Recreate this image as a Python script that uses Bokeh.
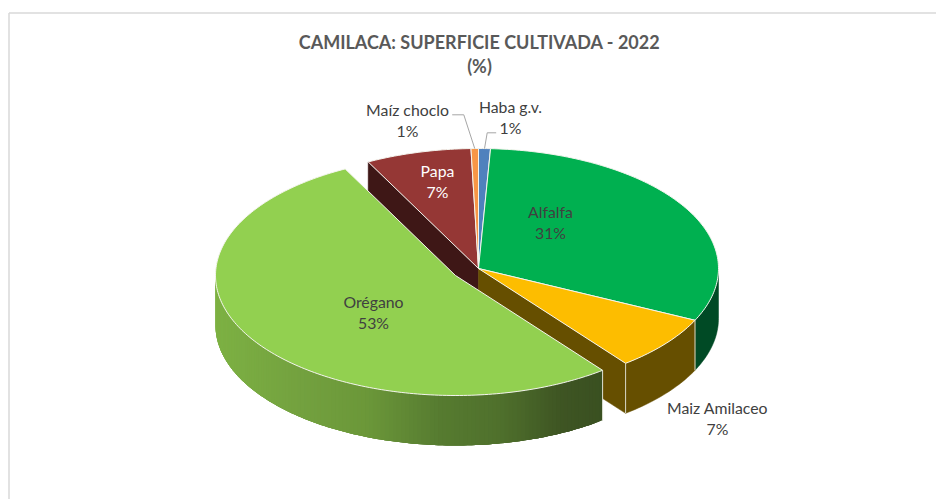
import math
from bokeh.plotting import figure
from bokeh.models import Range1d
from bokeh.core.properties import value
from bokeh.embed import file_html
from bokeh.resources import INLINE

# Data (clockwise from the top of the pie)
categories = ["Haba g.v.", "Alfalfa", "Maiz Amilaceo", "Orégano", "Papa", "Maíz choclo"]
shares = [0.8, 31.3, 7.4, 52.9, 7.1, 0.5]
pct_labels = ["1%", "31%", "7%", "53%", "7%", "1%"]
title_lines = ["CAMILACA: SUPERFICIE CULTIVADA - 2022", "(%)"]

# Style / layout
top_colors = ["#4f81bd", "#00b050", "#fdbd00", "#92d050", "#953735", "#f79646"]
side_colors = {"Alfalfa": "#004a25", "Maiz Amilaceo": "#664f00"}
cut_colors = {"Maiz Amilaceo": "#664f00", "Papa": "#3e1716"}
grad_x = [216, 300, 367, 440, 500, 560, 602]
grad_c = [(0x7d, 0xb1, 0x43), (0x73, 0xa1, 0x3f), (0x6b, 0x97, 0x39), (0x56, 0x7b, 0x30),
          (0x4f, 0x70, 0x2c), (0x3e, 0x55, 0x23), (0x3a, 0x50, 0x21)]
CX, CY, RX, RY, DEPTH = 478.0, 268.0, 240.0, 120.0, 50.0
EXPLODE = {"Orégano": (-23.0, 7.0)}
FONT = value("Lato")
LABEL_SIZE = "15.8px"
label_pos = {
    "Haba g.v.": (510, 105.5, 510, 126.5),
    "Alfalfa": (550, 210.5, 550, 231.5),
    "Maiz Amilaceo": (717, 406.5, 717, 427.5),
    "Orégano": (373, 300.5, 373, 321.5),
    "Papa": (437, 169.5, 437, 190.5),
    "Maíz choclo": (407, 108.5, 407, 129.5),
}
leader_elbows = {
    "Haba g.v.": [(495.7, 132.3), (486.7, 132.3)],
    "Maíz choclo": [(451.7, 114.3), (463.3, 114.3)],
}

p = figure(width=936, height=499, x_range=Range1d(0, 936), y_range=Range1d(499, 0),
           output_backend="svg", toolbar_location=None, min_border=0,
           background_fill_color="white", border_fill_color="white")
p.outline_line_color = None
p.axis.visible = False
p.grid.visible = False


def rim(t_deg, dx=0.0, dy=0.0, down=0.0):
    t = math.radians(t_deg)
    return CX + dx + RX * math.sin(t), CY + dy - RY * math.cos(t) + down


def frange(a, b, step=1.0):
    n = max(1, int(math.ceil(abs(b - a) / step)))
    return [a + (b - a) * i / n for i in range(n + 1)]


def grad(x):
    x = min(max(x, grad_x[0]), grad_x[-1])
    for i in range(len(grad_x) - 1):
        if x <= grad_x[i + 1]:
            f = (x - grad_x[i]) / (grad_x[i + 1] - grad_x[i])
            c = [round(grad_c[i][k] + f * (grad_c[i + 1][k] - grad_c[i][k])) for k in range(3)]
            return "#%02x%02x%02x" % tuple(c)


# angles from shares
total = sum(shares)
starts, ends, acc = [], [], 0.0
for s in shares:
    starts.append(acc / total * 360)
    acc += s
    ends.append(acc / total * 360)
idx = {c: i for i, c in enumerate(categories)}

# border of the chart area
p.line([8.5, 8.5], [499, 12.5], line_color="#d9d9d9", line_width=1.5)
p.line([8.5, 936], [12.5, 12.5], line_color="#d9d9d9", line_width=1.5)


def cut_face(t_deg, color):
    x, y = rim(t_deg)
    p.patch([CX, x, x, CX], [CY, y, y + DEPTH, CY + DEPTH], fill_color=color,
            line_color=color, line_width=0.5)


def side(t0, t1, color):
    ts = frange(t0, t1)
    xs = [rim(t)[0] for t in ts]
    ys = [rim(t)[1] for t in ts]
    p.patch(xs + xs[::-1], ys + [y + DEPTH for y in ys[::-1]], fill_color=color,
            line_color=color, line_width=0.5)


def top(i):
    dx, dy = EXPLODE.get(categories[i], (0.0, 0.0))
    ts = frange(starts[i], ends[i])
    xs = [CX + dx] + [rim(t, dx, dy)[0] for t in ts]
    ys = [CY + dy] + [rim(t, dx, dy)[1] for t in ts]
    p.patch(xs, ys, fill_color=top_colors[i], line_color="#f4f4ee", line_width=1.0)


# cut faces behind the exploded slice
cut_face(starts[idx["Papa"]], cut_colors["Papa"])
cut_face(ends[idx["Maiz Amilaceo"]], cut_colors["Maiz Amilaceo"])

# outer walls
i_a, i_m = idx["Alfalfa"], idx["Maiz Amilaceo"]
side(90.0, ends[i_a], side_colors["Alfalfa"])
side(starts[i_m], ends[i_m], side_colors["Maiz Amilaceo"])
for t in (ends[i_a], ends[i_m]):
    x, y = rim(t)
    p.line([x, x], [y, y + DEPTH], line_color="#d9d9c8", line_width=1)

# tops of the slices that stay in place
for i, c in enumerate(categories):
    if c not in EXPLODE:
        top(i)

# exploded slice: wall with a horizontal shading, then its top
i_o = idx["Orégano"]
dx, dy = EXPLODE["Orégano"]
ts = frange(starts[i_o], 270.0, 1.0)
last = ts[-1]
for t0, t1 in zip(ts[:-1], ts[1:]):
    # each strip reaches over the following ones so that no seam can show
    seg = frange(t0, min(t1 + 3.0, last), 1.0)
    xs = [rim(t, dx, dy)[0] for t in seg]
    ys = [rim(t, dx, dy)[1] for t in seg]
    col = grad(rim((t0 + t1) / 2, dx, dy)[0])
    p.patch(xs + xs[::-1], ys + [y + DEPTH for y in ys[::-1]], fill_color=col,
            line_color=None)
x, y = rim(starts[i_o], dx, dy)
p.line([x, x], [y, y + DEPTH], line_color="#dfe3d8", line_width=1)
top(i_o)

# leader lines
for c, elbow in leader_elbows.items():
    i = idx[c]
    ax, ay = rim((starts[i] + ends[i]) / 2)
    p.line([e[0] for e in elbow] + [ax], [e[1] for e in elbow] + [ay],
           line_color="#a6a6a6", line_width=1)

# texts
for c, pct in zip(categories, pct_labels):
    x1, y1, x2, y2 = label_pos[c]
    col = "#ffffff" if c == "Papa" else "#404040"
    p.text([x1], [y1], text=[c], text_font=FONT, text_font_size=LABEL_SIZE, text_color=col,
           text_align="center", text_baseline="middle")
    p.text([x2], [y2], text=[pct], text_font=FONT, text_font_size=LABEL_SIZE, text_color=col,
           text_align="center", text_baseline="middle")

for line, y in zip(title_lines, [41, 65]):
    p.text([479], [y], text=[line], text_font=FONT, text_font_size="18px", text_font_style="bold",
           text_color="#595959", text_align="center", text_baseline="middle")

open("out.html", "w").write(file_html(p, INLINE))
